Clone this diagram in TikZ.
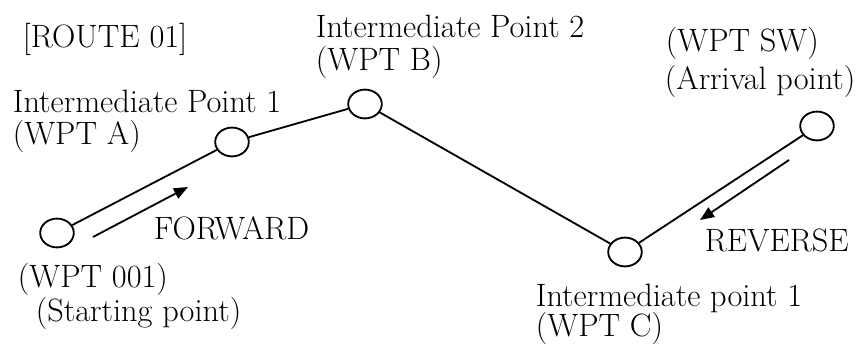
\documentclass[tikz,border=0pt]{standalone}
\usepackage{xcolor}
\usepackage{tikz}
\usetikzlibrary{shapes.geometric, arrows.meta, positioning}

\begin{document}
\begin{tikzpicture}[x=0.025cm, y=-0.025cm, line width=1.3pt,
        wpt/.style={ellipse, draw, inner sep=0pt, minimum width=0.84cm, minimum height=0.72cm},
        lbl/.style={anchor=base west, inner sep=0pt, font=\fontsize{23}{27}\selectfont},
        dir/.style={-{Triangle[length=10pt, width=8pt]}}]
        \useasboundingbox (0,0) rectangle (864,347);

        \node[wpt] (w001) at (57,233)  {};
        \node[wpt] (wA)   at (232,142) {};
        \node[wpt] (wB)   at (365,104) {};
        \node[wpt] (wC)   at (625,252) {};
        \node[wpt] (wSW)  at (817,126) {};

        \node[lbl] (route) at (22,48)   {[ROUTE 01]};
        \node[lbl] (lblB1) at (315,38)  {Intermediate Point 2};
        \node[lbl] (lblB2) at (315,71)  {(WPT B)};
        \node[lbl] (lblA1) at (12,113)  {Intermediate Point 1};
        \node[lbl] (lblA2) at (12,145)  {(WPT A)};
        \node[lbl] (fwd)   at (153,240) {FORWARD};
        \node[lbl] (lbl01) at (17,288)  {(WPT 001)};
        \node[lbl] (lbl02) at (35,322)  {(Starting point)};
        \node[lbl] (lblS1) at (665,52)  {(WPT SW)};
        \node[lbl] (lblS2) at (664,90)  {(Arrival point)};
        \node[lbl] (rev)   at (704,252) {REVERSE};
        \node[lbl] (lblC1) at (535,307) {Intermediate point 1};
        \node[lbl] (lblC2) at (535,337) {(WPT C)};

        \coordinate (f0) at (93,237);
        \coordinate (f1) at (188,187);
        \coordinate (r0) at (789,160);
        \coordinate (r1) at (700,220);

        \draw (w001) -- (wA) -- (wB) -- (wC) -- (wSW);
        \draw[dir] (f0) -- (f1);
        \draw[dir] (r0) -- (r1);
\end{tikzpicture}
\end{document}
